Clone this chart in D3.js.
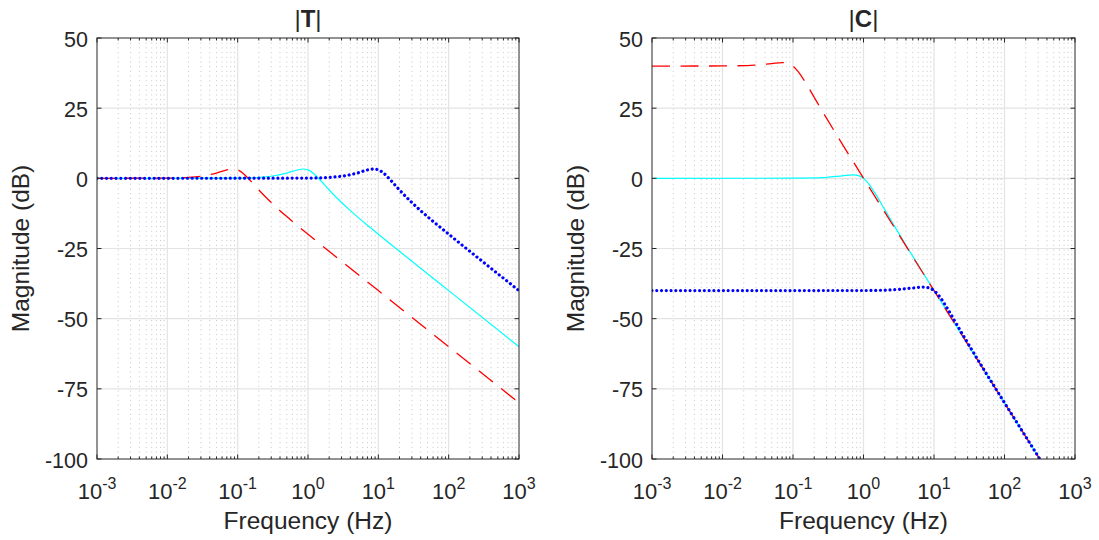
<!DOCTYPE html>
<html>
<head>
<meta charset="utf-8">
<script src="https://cdn.jsdelivr.net/npm/d3@7"></script>
<style>
  body { margin: 0; background: #fff; }
  text { font-family: "Liberation Sans", Arial, Helvetica, sans-serif; fill: #262626; }
</style>
</head>
<body>
<div id="chart"></div>
<script>
// |T| panel
const tRedHz  = [0.001, 0.01, 0.02, 0.03, 0.05, 0.07, 0.085, 0.1, 0.12, 0.15, 0.2, 0.3, 0.4, 0.5, 0.7, 1, 10, 100, 1000];
const tRedDb  = [0.0, 0.09, 0.34, 0.75, 1.87, 2.98, 3.33, 3.01, 1.74, -0.69, -4.15, -8.63, -11.52, -13.64, -16.73, -19.91, -40.0, -60.0, -80.0];
const tCyanHz = [0.001, 0.1, 0.2, 0.3, 0.5, 0.7, 0.85, 1, 1.2, 1.5, 2, 3, 4, 5, 7, 10, 100, 1000];
const tCyanDb = [0.0, 0.09, 0.34, 0.75, 1.87, 2.98, 3.33, 3.01, 1.74, -0.69, -4.15, -8.63, -11.52, -13.64, -16.73, -19.91, -40.0, -60.0];
const tBlueHz = [0.001, 1, 2, 3, 5, 7, 8.5, 10, 12, 15, 20, 30, 40, 50, 70, 100, 1000];
const tBlueDb = [0.0, 0.09, 0.34, 0.75, 1.87, 2.98, 3.33, 3.01, 1.74, -0.69, -4.15, -8.63, -11.52, -13.64, -16.73, -19.91, -40.0];

// |C| panel
const cRedHz  = [0.001, 0.01, 0.02, 0.03, 0.05, 0.0707, 0.085, 0.1, 0.12, 0.15, 0.2, 0.3, 0.5, 1, 2, 10, 100, 316.2];
const cRedDb  = [40.0, 40.04, 40.17, 40.37, 40.9, 41.25, 40.97, 40.0, 37.87, 34.19, 28.86, 21.37, 12.21, 0.04, -12.03, -40.0, -80.0, -100.0];
const cCyanHz = [0.001, 0.1, 0.2, 0.3, 0.5, 0.707, 0.85, 1, 1.2, 1.5, 2, 3, 5, 10, 20, 100, 316.2];
const cCyanDb = [0.0, 0.04, 0.17, 0.37, 0.9, 1.25, 0.97, 0.0, -2.13, -5.81, -11.14, -18.63, -27.79, -39.96, -52.03, -80.0, -100.0];
const cBlueHz = [0.001, 1, 2, 3, 5, 7.07, 8.5, 10, 12, 15, 20, 30, 50, 100, 200, 316.2];
const cBlueDb = [-40.0, -39.96, -39.83, -39.63, -39.1, -38.75, -39.03, -40.0, -42.13, -45.81, -51.14, -58.63, -67.79, -79.96, -92.03, -100.0];

const yTicks = [-100, -75, -50, -25, 0, 25, 50];
const xDecades = [-3, -2, -1, 0, 1, 2, 3];
const titles = ["T", "C"];
const xLabel = "Frequency (Hz)";
const yLabel = "Magnitude (dB)";

const W = 1099, H = 540;
const yTop = 38, yBottom = 459;
const panels = [
  {left: 97, right: 519, title: titles[0], series: [
    {hz: tCyanHz, db: tCyanDb, kind: "cyan"},
    {hz: tRedHz, db: tRedDb, kind: "red"},
    {hz: tBlueHz, db: tBlueDb, kind: "blue"}]},
  {left: 652, right: 1075, title: titles[1], series: [
    {hz: cCyanHz, db: cCyanDb, kind: "cyan"},
    {hz: cRedHz, db: cRedDb, kind: "red"},
    {hz: cBlueHz, db: cBlueDb, kind: "blue"}]}
];

const styles = {
  red:  {stroke: "#ff0000", width: 1.3, dash: "18,10.5", cap: "butt"},
  cyan: {stroke: "#00ffff", width: 1.2, dash: null, cap: "butt"},
  blue: {stroke: "#0000ff", width: 3.2, dash: "0.01,4.75", cap: "round"}
};

const svg = d3.select("#chart").append("svg")
  .attr("width", W).attr("height", H);

// minor tick positions for a log axis (2..9 inside each decade)
const minorVals = [];
for (let d = -3; d < 3; d++) for (let k = 2; k <= 9; k++) minorVals.push(k * Math.pow(10, d));

panels.forEach((p, pi) => {
  const x = d3.scaleLog().domain([1e-3, 1e3]).range([p.left, p.right]);
  const y = d3.scaleLinear().domain([-100, 50]).range([yBottom, yTop]);
  const g = svg.append("g");

  // minor grid (dotted, vertical only)
  g.append("g").selectAll("line").data(minorVals).join("line")
    .attr("x1", d => x(d)).attr("x2", d => x(d))
    .attr("y1", yTop).attr("y2", yBottom)
    .attr("stroke", "#c6c6c6").attr("stroke-width", 1)
    .attr("stroke-dasharray", "1,3.7");

  // major grid
  g.append("g").selectAll("line").data(xDecades.slice(1, -1)).join("line")
    .attr("x1", d => x(Math.pow(10, d))).attr("x2", d => x(Math.pow(10, d)))
    .attr("y1", yTop).attr("y2", yBottom)
    .attr("stroke", "#e3e3e3").attr("stroke-width", 1.2);
  g.append("g").selectAll("line").data(yTicks.slice(1, -1)).join("line")
    .attr("x1", p.left).attr("x2", p.right)
    .attr("y1", d => y(d)).attr("y2", d => y(d))
    .attr("stroke", "#e3e3e3").attr("stroke-width", 1.2);

  // curves
  const clipId = "clip" + pi;
  svg.append("clipPath").attr("id", clipId).append("rect")
    .attr("x", p.left).attr("y", yTop)
    .attr("width", p.right - p.left).attr("height", yBottom - yTop);
  const line = d3.line().x(d => x(d[0])).y(d => y(d[1])).curve(d3.curveMonotoneX);
  const cg = g.append("g").attr("clip-path", `url(#${clipId})`);
  p.series.forEach(s => {
    const st = styles[s.kind];
    cg.append("path")
      .attr("d", line(s.hz.map((h, i) => [h, s.db[i]])))
      .attr("fill", "none")
      .attr("stroke", st.stroke)
      .attr("stroke-width", st.width)
      .attr("stroke-linecap", st.cap)
      .attr("stroke-dasharray", st.dash);
  });

  // ticks, inward on all four sides
  const tk = g.append("g").attr("stroke", "#262626").attr("stroke-width", 1);
  const majX = xDecades.map(d => Math.pow(10, d));
  majX.forEach(v => {
    tk.append("line").attr("x1", x(v)).attr("x2", x(v)).attr("y1", yBottom).attr("y2", yBottom - 4.5);
    tk.append("line").attr("x1", x(v)).attr("x2", x(v)).attr("y1", yTop).attr("y2", yTop + 4.5);
  });
  minorVals.forEach(v => {
    tk.append("line").attr("x1", x(v)).attr("x2", x(v)).attr("y1", yBottom).attr("y2", yBottom - 2.5);
    tk.append("line").attr("x1", x(v)).attr("x2", x(v)).attr("y1", yTop).attr("y2", yTop + 2.5);
  });
  yTicks.forEach(v => {
    tk.append("line").attr("x1", p.left).attr("x2", p.left + 4.5).attr("y1", y(v)).attr("y2", y(v));
    tk.append("line").attr("x1", p.right).attr("x2", p.right - 4.5).attr("y1", y(v)).attr("y2", y(v));
  });

  // box
  g.append("rect")
    .attr("x", p.left).attr("y", yTop)
    .attr("width", p.right - p.left).attr("height", yBottom - yTop)
    .attr("fill", "none").attr("stroke", "#262626").attr("stroke-width", 1);

  // y tick labels
  g.append("g").selectAll("text").data(yTicks).join("text")
    .attr("x", p.left - 9).attr("y", d => y(d) + 8.5)
    .attr("text-anchor", "end")
    .style("font-size", "21.5px")
    .text(d => d);

  // x tick labels 10^n
  const xl = g.append("g").selectAll("text").data(xDecades).join("text")
    .attr("x", d => x(Math.pow(10, d)))
    .attr("y", 499)
    .attr("text-anchor", "middle")
    .style("font-size", "22px");
  xl.append("tspan").text("10");
  xl.append("tspan").attr("dy", -10).style("font-size", "16px").text(d => d);

  // axis labels
  g.append("text")
    .attr("x", (p.left + p.right) / 2).attr("y", 528.5)
    .attr("text-anchor", "middle")
    .style("font-size", "24.5px")
    .text(xLabel);
  g.append("text")
    .attr("transform", `translate(${p.left - 68},${(yTop + yBottom) / 2}) rotate(-90)`)
    .attr("text-anchor", "middle")
    .style("font-size", "24.5px")
    .text(yLabel);

  // title |T| with bold letter
  const t = g.append("text")
    .attr("x", (p.left + p.right) / 2).attr("y", 27)
    .attr("text-anchor", "middle")
    .style("font-size", "24px");
  t.append("tspan").text("|");
  t.append("tspan").style("font-weight", "bold").text(p.title);
  t.append("tspan").text("|");
});
</script>
</body>
</html>
